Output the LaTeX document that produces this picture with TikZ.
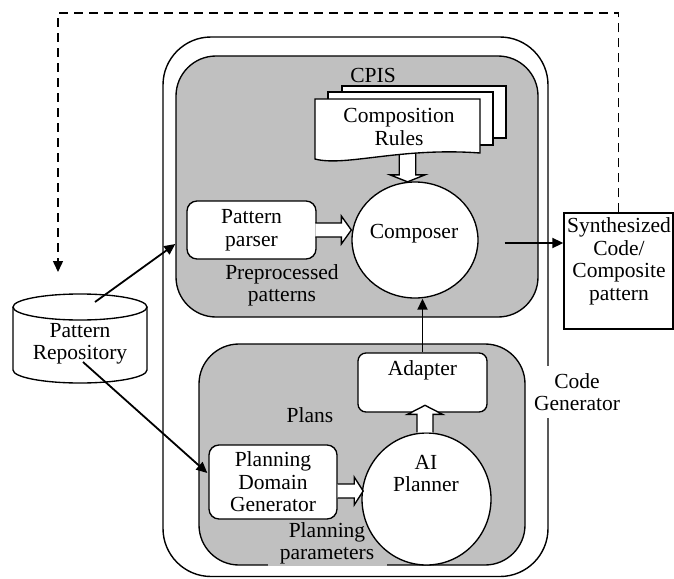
\documentclass[tikz,border=0pt]{standalone}
\usepackage{fontspec}
\setmainfont{Liberation Serif}
\usetikzlibrary{arrows.meta,shapes.geometric,calc}
\definecolor{panel}{HTML}{C0C0C0}
\begin{document}
\begin{tikzpicture}[x=1pt,y=-1pt,
  every node/.style={font=\fontsize{21.5}{22.5}\selectfont, align=center, inner sep=0pt},
  thin line/.style={line width=1.35pt},
  panelbox/.style={draw, line width=1.35pt, fill=panel, rounded corners=40pt},
  box/.style={draw, line width=1.35pt, fill=white, rounded corners=10pt},
  oval/.style={draw, line width=1.35pt, fill=white, ellipse},
  page/.style={draw, line width=1.35pt, fill=white, line join=miter},
  arr/.style={line width=1.8pt, -{Triangle[length=11pt,width=10pt]}},
  block/.style={draw, line width=1.35pt, fill=white, line join=miter},
]
\useasboundingbox (0,0) rectangle (674,578);

% Code generator frame and its label
\draw[line width=1.4pt, rounded corners=48pt] (163,37) rectangle (548,576.5);
\node[fill=white, inner xsep=4pt, inner ysep=7pt] (cglabel) at (577,392) {Code\\Generator};

% CPIS panel
\node[panelbox, minimum width=362pt, minimum height=261pt] (cpis) at (357,186.5) {};
\node (cpislabel) at (373,75) {CPIS};

% planning panel, its bottom edge broken under the parameters label
\node[panelbox, minimum width=326pt, minimum height=221pt] (plan) at (362,454.5) {};
\fill[panel] (268,555) rectangle (387,566.3);
\node (params) at (327,543.5) {Planning\\parameters};
\node (plans) at (310,415) {Plans};

% composer
\node[oval, minimum width=126pt, minimum height=116pt] (composer) at (415,240) {};
\node (composertxt) at (414,234) {Composer};

% rules feed into the composer
\draw[block, shift={($(composer.north)+(-7.5,0.5)$)}]
  (-8.3,-34.5) -- (-8.3,-7) -- (-17.5,-7) -- (0,0) -- (17.5,-7) -- (8.3,-7) -- (8.3,-34.5);

% stack of composition rule documents
\draw[page] (342,86) rectangle (506,138);
\draw[page] (328,92) rectangle (493,145);
\draw[page] (315,99) -- (480,99) -- (480,153)
  .. controls (400,147) and (345,167) .. (315,159) -- cycle;
\node (rules) at (399,127) {Composition\\Rules};

% pattern parser
\node[box, minimum width=129pt, minimum height=58pt] (parser) at (251.5,230) {Pattern\\parser};
\draw[block, shift={(parser.east -| composer.west)}]
  (-36,-7) -- (-10,-7) -- (-10,-14) -- (0,0) -- (-10,14) -- (-10,7) -- (-36,7);
\node (prep) at (282,285.5) {Preprocessed\\patterns};

% adapter
\node[box, rounded corners=8pt, minimum width=129pt, minimum height=59pt] (adapter) at (422.5,382.5) {};
\node (adaptertxt) at (422.5,370) {Adapter};

% AI planner
\node[oval, minimum width=129pt, minimum height=132pt] (ai) at (426.5,499) {};
\node (aitxt) at (426,473.5) {AI\\Planner};
\draw[block, shift={($(ai.north)+(-1.5,-27)$)}]
  (-8,27) -- (-8,9) -- (-17.5,9) -- (0,0) -- (17.5,9) -- (8,9) -- (8,27);

% planning domain generator
\node[box, minimum width=128pt, minimum height=74pt] (pdg) at (273,482) {Planning\\Domain\\Generator};
\draw[block, shift={($(pdg.east)+(25.5,9)$)}]
  (-25.5,-7) -- (-9,-7) -- (-9,-14) -- (0,0) -- (-9,14) -- (-9,7) -- (-25.5,7);

% adapter output to composer
\draw[arr] (adapter.north) -- (adapter.north |- composer.south);

% synthesized output
\node[draw, thin line, fill=white, minimum width=109pt, minimum height=116pt] (synth) at (618.5,271) {};
\node (synthtxt) at (619,261.5) {Synthesized\\Code/\\Composite\\pattern};
\coordinate (outstart) at ($(composer.east)+(26,3)$);
\draw[arr] (outstart) -- (outstart -| synth.west);

% pattern repository
\draw[thin line, fill=white] (13,307) -- (13,370)
  arc[start angle=180, end angle=0, x radius=67, y radius=13] -- (147,307);
\draw[thin line, fill=white] (80,307) ellipse [x radius=67, y radius=13];
\node (repo) at (80,344) {Pattern\\Repository};
\coordinate (repotop) at (95,302);
\coordinate (repolow) at (83,362);
\draw[arr] (repotop) -- ($(cpis.west)+(0,57.5)$);
\draw[arr] (repolow) -- ($(pdg.west)+(-1,-9)$);

% feedback loop back to the repository
\coordinate (loopL) at (58,13);
\coordinate (loopend) at (58,272);
\draw[arr, line width=1.5pt, dash pattern=on 9pt off 6pt]
  (synth.north) -- (synth.north |- loopL) -- (loopL) -- (loopend);
\end{tikzpicture}
\end{document}
